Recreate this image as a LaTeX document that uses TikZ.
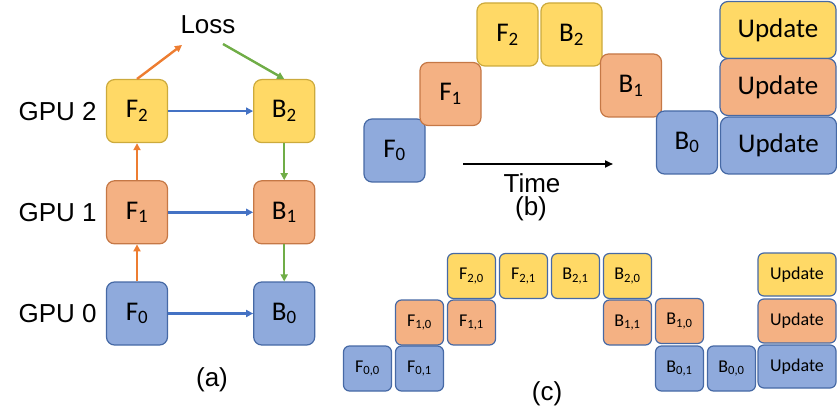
\documentclass[tikz,border=0pt]{standalone}
\usepackage{fontspec}
\setmainfont{Liberation Sans}
\newfontfamily\boxfont{Carlito}
\usetikzlibrary{positioning,arrows.meta}

\definecolor{ylfill}{HTML}{FFD966}
\definecolor{yldraw}{RGB}{204,170,60}
\definecolor{orfill}{HTML}{F4B183}
\definecolor{ordraw}{RGB}{197,120,70}
\definecolor{blfill}{HTML}{8FAADC}
\definecolor{bldraw}{RGB}{70,105,165}
\definecolor{orarrow}{HTML}{ED7D31}
\definecolor{blarrow}{HTML}{4472C4}
\definecolor{grarrow}{HTML}{70AD47}

\begin{document}
\begin{tikzpicture}[x=1pt,y=-1pt,
  lbl/.style={inner sep=0pt, font=\fontsize{26}{29}\selectfont},
  blk/.style={draw, rounded corners=8pt, line width=1.2pt, minimum width=61pt,
    minimum height=63pt, inner sep=0pt, font=\boxfont\fontsize{27}{29}\selectfont},
  yblk/.style={blk, fill=ylfill, draw=yldraw},
  oblk/.style={blk, fill=orfill, draw=ordraw},
  bblk/.style={blk, fill=blfill, draw=bldraw},
  upd/.style={blk, draw=bldraw, minimum width=116pt, minimum height=57pt},
  sblk/.style={blk, draw=bldraw, rounded corners=6pt, minimum width=48pt,
    minimum height=45pt, font=\boxfont\fontsize{18}{20}\selectfont},
  arr/.style={line width=2.4pt, -{Triangle[length=7pt,width=7pt]}}
]
  \useasboundingbox (0,0) rectangle (837,414);

  % (a) model split over three GPUs
  \node[bblk] (aF0) at (137,313.5) {F\textsubscript{0}};
  \node[oblk, above=37pt of aF0] (aF1) {F\textsubscript{1}};
  \node[yblk, above=37pt of aF1] (aF2) {F\textsubscript{2}};
  \node[bblk, right=85pt of aF0] (aB0) {B\textsubscript{0}};
  \node[oblk, right=85pt of aF1] (aB1) {B\textsubscript{1}};
  \node[yblk, right=85pt of aF2] (aB2) {B\textsubscript{2}};

  \node[lbl, left=9pt of aF0] (gpu0) {GPU 0};
  \node[lbl, left=9pt of aF1] (gpu1) {GPU 1};
  \node[lbl, left=9pt of aF2] (gpu2) {GPU 2};
  \node[lbl] (loss) at (208,25) {Loss};
  \node[lbl] (capa) at (212,380) {(a)};
  \coordinate (lossin) at (182,45);
  \coordinate (lossout) at (223,44);

  \draw[arr, orarrow] (aF0) -- (aF1);
  \draw[arr, orarrow] (aF1) -- (aF2);
  \draw[arr, orarrow] (aF2.north) -- (lossin);
  \draw[arr, grarrow] (lossout) -- (aB2.north);
  \draw[arr, grarrow] (aB2) -- (aB1);
  \draw[arr, grarrow] (aB1) -- (aB0);
  \draw[arr, blarrow] (aF0) -- (aB0);
  \draw[arr, blarrow] (aF1) -- (aB1);
  \draw[arr, blarrow] (aF2) -- (aB2);

  % (b) naive schedule
  \node[bblk] (bF0) at (394.5,150.5) {F\textsubscript{0}};
  \node[oblk] (bF1) at (450.5,94) {F\textsubscript{1}};
  \node[yblk] (bF2) at (507.5,34.5) {F\textsubscript{2}};
  \node[yblk] (bB2) at (571.5,34.5) {B\textsubscript{2}};
  \node[oblk] (bB1) at (631,85.5) {B\textsubscript{1}};
  \node[bblk] (bB0) at (687,142.5) {B\textsubscript{0}};
  \node[upd, fill=ylfill] (bU2) at (778,30) {Update};
  \node[upd, fill=orfill] (bU1) at (778,87) {Update};
  \node[upd, fill=blfill] (bU0) at (778.5,145.5) {Update};

  \coordinate (t0) at (463,164);
  \coordinate (t1) at (613,164);
  \draw[line width=2pt, -{Triangle[length=8pt,width=7pt]}] (t0) -- (t1);
  \node[lbl] (time) at (532,183) {Time};
  \node[lbl] (capb) at (531,209) {(b)};

  % (c) pipelined schedule, two micro-batches
  \node[sblk, fill=blfill] (cF00) at (367.5,368.5) {F\textsubscript{0,0}};
  \node[sblk, fill=blfill] (cF01) at (419.5,368.5) {F\textsubscript{0,1}};
  \node[sblk, fill=orfill] (cF10) at (419.5,322.5) {F\textsubscript{1,0}};
  \node[sblk, fill=orfill] (cF11) at (471.5,322.5) {F\textsubscript{1,1}};
  \node[sblk, fill=ylfill] (cF20) at (471.5,276) {F\textsubscript{2,0}};
  \node[sblk, fill=ylfill] (cF21) at (523.5,276) {F\textsubscript{2,1}};
  \node[sblk, fill=ylfill] (cB21) at (575.5,276) {B\textsubscript{2,1}};
  \node[sblk, fill=ylfill] (cB20) at (627.5,276) {B\textsubscript{2,0}};
  \node[sblk, fill=orfill] (cB11) at (627.5,322.5) {B\textsubscript{1,1}};
  \node[sblk, fill=orfill] (cB10) at (679.5,321) {B\textsubscript{1,0}};
  \node[sblk, fill=blfill] (cB01) at (679.5,368.5) {B\textsubscript{0,1}};
  \node[sblk, fill=blfill] (cB00) at (731.5,368.5) {B\textsubscript{0,0}};
  \node[sblk, fill=ylfill, minimum width=78pt, minimum height=43pt] (cU2) at (797,274.5) {Update};
  \node[sblk, fill=orfill, minimum width=78pt, minimum height=44pt] (cU1) at (797,321) {Update};
  \node[sblk, fill=blfill, minimum width=78pt, minimum height=43pt] (cU0) at (797,366.5) {Update};
  \node[lbl] (capc) at (547,394) {(c)};
\end{tikzpicture}
\end{document}
